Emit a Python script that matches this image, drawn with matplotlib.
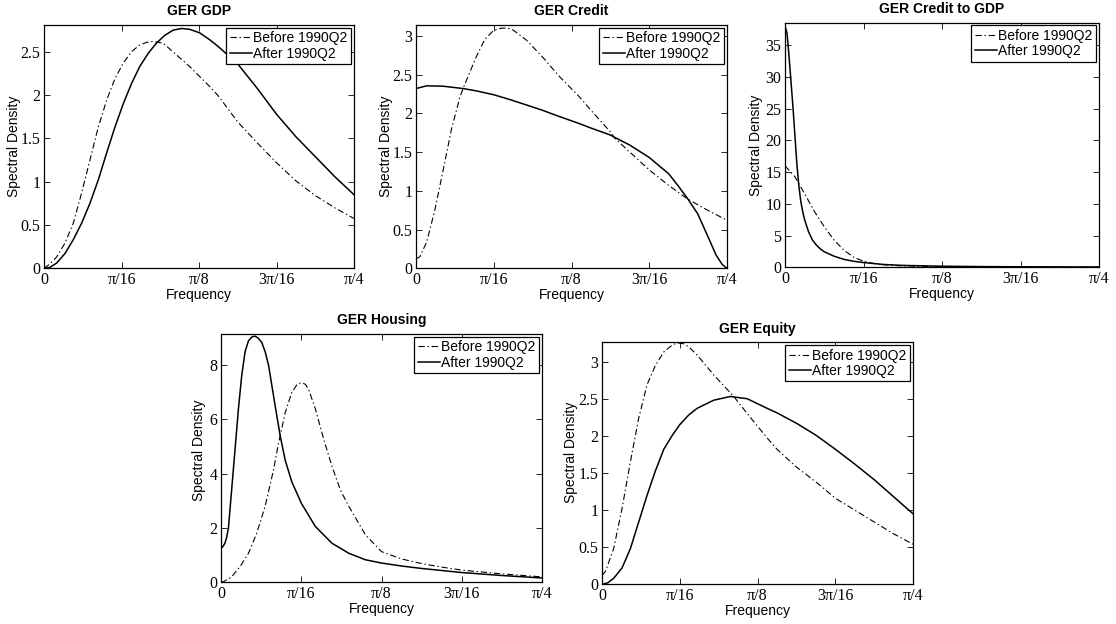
import numpy as np
import matplotlib
matplotlib.use("Agg")
import matplotlib.pyplot as plt

plt.rcParams["lines.scale_dashes"] = False

# ---------------- data (x in units of pi/64) ----------------
gdp_before_u = [0, 0.3, 0.65, 1.08, 1.51, 1.94, 2.37, 2.8, 3.23, 3.66, 4.09, 4.51, 4.94, 5.3, 5.63, 6.15,
                6.66, 7.52, 8.55, 9, 10, 11, 12, 13, 14, 15, 16]
gdp_before_v = [0.0, 0.05, 0.13, 0.29, 0.52, 0.87, 1.25, 1.63, 1.94, 2.19, 2.37, 2.5, 2.58, 2.61, 2.62, 2.6,
                2.5, 2.33, 2.1, 1.99, 1.69, 1.45, 1.22, 1.01, 0.84, 0.70, 0.575]
gdp_after_u = [0, 0.3, 0.65, 1.08, 1.51, 1.94, 2.37, 2.8, 3.23, 3.66, 4.09, 4.51, 4.94, 5.37, 5.8,
               6.23, 6.66, 7.09, 7.52, 8.03, 8.55, 9, 10, 11, 12, 13, 14, 15, 16]
gdp_after_v = [0.0, 0.01, 0.06, 0.17, 0.33, 0.52, 0.75, 1.02, 1.33, 1.63, 1.9, 2.13, 2.33, 2.48, 2.6,
               2.69, 2.75, 2.77, 2.76, 2.72, 2.64, 2.56, 2.36, 2.08, 1.78, 1.52, 1.29, 1.06, 0.85]

credit_before_u = [0, 0.2, 0.55, 0.97, 1.4, 1.82, 2.25, 2.42, 3.1, 3.53, 3.95, 4.2, 4.46, 4.7, 4.97, 5.66,
                   6.5, 7.36, 8.38, 9, 10, 10.22, 11, 12, 13, 14, 15, 16]
credit_before_v = [0.12, 0.15, 0.34, 0.75, 1.27, 1.79, 2.2, 2.32, 2.73, 2.95, 3.06, 3.09, 3.1, 3.1, 3.08, 2.95,
                   2.73, 2.48, 2.22, 2.04, 1.76, 1.68, 1.5, 1.27, 1.07, 0.89, 0.75, 0.62]
credit_after_u = [0, 0.55, 1.4, 2.42, 3.1, 4.0, 4.8, 5.66, 6.5, 7.36, 8.38, 9, 10, 10.22, 11, 12, 13, 13.5,
                  14, 14.5, 14.75, 15, 15.44, 15.75, 16]
credit_after_v = [2.32, 2.355, 2.35, 2.32, 2.29, 2.24, 2.18, 2.11, 2.04, 1.96, 1.87, 1.81, 1.72, 1.69, 1.59,
                  1.43, 1.22, 1.06, 0.89, 0.7, 0.56, 0.42, 0.17, 0.05, 0.0]

c2g_before_u = [0, 0.5, 1.0, 1.5, 2.0, 2.5, 3.0, 3.5, 4.0, 4.5, 5, 6, 8, 10, 12, 16]
c2g_before_v = [16.0, 14.3, 11.6, 8.8, 6.4, 4.3, 2.7, 1.6, 0.95, 0.6, 0.4, 0.22, 0.1, 0.06, 0.04, 0.03]
c2g_after_u = [0, 0.1, 0.2, 0.3, 0.4, 0.5, 0.6, 0.7, 0.8, 0.9, 1.0, 1.2, 1.4, 1.6, 1.8, 2.0, 2.5, 3.0,
               3.5, 4, 5, 6, 8, 10, 12, 14, 16]
c2g_after_v = [38.0, 37.0, 33.5, 29.5, 25.5, 21.0, 16.5, 13.0, 10.5, 8.8, 7.5, 5.6, 4.3, 3.5, 2.9, 2.45,
               1.75, 1.25, 0.95, 0.75, 0.45, 0.3, 0.17, 0.11, 0.08, 0.06, 0.05]

housing_before_u = [0, 0.12, 0.53, 0.95, 1.37, 1.78, 2.2, 2.62, 2.87, 3.2, 3.53, 3.8, 4.0, 4.2, 4.37, 4.7,
                    5.12, 5.53, 5.95, 6.37, 7.2, 8.0, 9, 10, 11, 12, 14, 16]
housing_before_v = [0.0, 0.02, 0.2, 0.58, 1.07, 1.81, 2.8, 4.15, 5.14, 6.25, 7.0, 7.3, 7.36, 7.3, 7.1, 6.4,
                    5.27, 4.28, 3.4, 2.8, 1.75, 1.13, 0.86, 0.69, 0.56, 0.45, 0.31, 0.2]
housing_after_u = [0, 0.1, 0.2, 0.28, 0.37, 0.53, 0.7, 0.87, 1.03, 1.2, 1.37, 1.55, 1.7, 1.85, 2.03, 2.2,
                   2.37, 2.7, 2.95, 3.2, 3.53, 4.0, 4.7, 5.53, 6.37, 7.2, 8.0, 9, 10, 12, 14, 16]
housing_after_v = [1.25, 1.32, 1.45, 1.65, 2.0, 3.4, 4.9, 6.4, 7.6, 8.5, 8.9, 9.05, 9.07, 9.0, 8.84, 8.5,
                   8.0, 6.5, 5.4, 4.5, 3.7, 2.92, 2.06, 1.44, 1.07, 0.83, 0.71, 0.6, 0.51, 0.36, 0.25, 0.16]

equity_before_u = [0, 0.17, 0.6, 1.03, 1.46, 1.89, 2.32, 2.75, 3.18, 3.6, 3.8, 4.0, 4.2, 4.46, 4.89, 5.75,
                   6.6, 6.78, 7.47, 8.5, 9, 10, 11, 12, 13, 14, 15, 16]
equity_before_v = [0.12, 0.17, 0.48, 1.02, 1.65, 2.24, 2.69, 2.95, 3.13, 3.22, 3.245, 3.25, 3.24, 3.2, 3.09,
                   2.82, 2.58, 2.53, 2.3, 1.97, 1.82, 1.58, 1.38, 1.16, 1.0, 0.84, 0.68, 0.54]
equity_after_u = [0, 0.3, 0.6, 1.03, 1.46, 1.89, 2.32, 2.75, 3.18, 3.6, 4.0, 4.46, 4.89, 5.75, 6.6,
                  7.47, 8.5, 9, 10, 11, 12, 13, 14, 15, 16]
equity_after_v = [0.0, 0.02, 0.08, 0.22, 0.48, 0.84, 1.2, 1.53, 1.82, 2.0, 2.15, 2.28, 2.37, 2.48, 2.53,
                  2.5, 2.37, 2.31, 2.17, 2.01, 1.82, 1.62, 1.41, 1.18, 0.95]

titles = ["GER GDP", "GER Credit", "GER Credit to GDP", "GER Housing", "GER Equity"]
legend_labels = ["Before 1990Q2", "After 1990Q2"]
xtick_labels = ["0", "\u03c0/16", "\u03c0/8", "3\u03c0/16", "\u03c0/4"]
ytick_sets = [
    [0, 0.5, 1, 1.5, 2, 2.5],
    [0, 0.5, 1, 1.5, 2, 2.5, 3],
    [0, 5, 10, 15, 20, 25, 30, 35],
    [0, 2, 4, 6, 8],
    [0, 0.5, 1, 1.5, 2, 2.5, 3],
]
ytops = [2.81, 3.14, 38.6, 9.15, 3.26]

series = [
    (gdp_before_u, gdp_before_v, gdp_after_u, gdp_after_v),
    (credit_before_u, credit_before_v, credit_after_u, credit_after_v),
    (c2g_before_u, c2g_before_v, c2g_after_u, c2g_after_v),
    (housing_before_u, housing_before_v, housing_after_u, housing_after_v),
    (equity_before_u, equity_before_v, equity_after_u, equity_after_v),
]

# ---------------- layout (pixels: left, top, right, bottom) ----------------
W, H = 1116, 624
boxes = [
    (44, 25, 354, 268.3),
    (416, 25, 727, 268.3),
    (785, 22.5, 1099, 267.3),
    (221, 334, 542, 582.3),
    (602, 342.3, 913, 584.3),
]
ylabel_pos = [(-0.074, 0.5), (-0.074, 0.5), (-0.07, 0.5), (-0.047, 0.533), (-0.077, 0.547)]

fig = plt.figure(figsize=(W / 100, H / 100), dpi=100)
fig.patch.set_facecolor("white")

SERIF = "Liberation Serif"
SANS = "Liberation Sans"

for i in range(5):
    l, t, r, b = boxes[i]
    ax = fig.add_axes([l / W, 1 - b / H, (r - l) / W, (b - t) / H])
    bu, bv, au, av = series[i]
    xb = np.array(bu) * np.pi / 64
    xa = np.array(au) * np.pi / 64
    ax.plot(xb, bv, color="black", lw=0.8, dashes=(4.5, 2, 1, 2), label=legend_labels[0])
    ax.plot(xa, av, color="black", lw=1.1, label=legend_labels[1])
    ax.set_xlim(0, np.pi / 4)
    ax.set_ylim(0, ytops[i])
    ax.set_xticks([0, np.pi / 16, np.pi / 8, 3 * np.pi / 16, np.pi / 4])
    ax.set_xticklabels(xtick_labels, fontfamily=SERIF, fontsize=11.5)
    yt = ytick_sets[i]
    ax.set_yticks(yt)
    ax.set_yticklabels([("%g" % v) for v in yt], fontfamily=SERIF, fontsize=11.5)
    ax.tick_params(direction="in", top=True, right=True, length=4, width=0.6, pad=2.5)
    for s in ax.spines.values():
        s.set_linewidth(0.9)
    ax.set_title(titles[i], fontfamily=SANS, fontweight="bold", fontsize=10, pad=7)
    ax.set_xlabel("Frequency", fontfamily=SANS, fontsize=10, labelpad=0.5)
    ax.set_ylabel("Spectral Density", fontfamily=SANS, fontsize=10)
    ax.yaxis.set_label_coords(*ylabel_pos[i])
    leg = ax.legend(loc="upper right", prop={"family": SANS, "size": 10}, frameon=True,
                    fancybox=False, framealpha=1, edgecolor="black", borderpad=0.25,
                    labelspacing=0.1, handlelength=1.6, handletextpad=0.1,
                    borderaxespad=0.2)
    leg.get_frame().set_linewidth(0.9)

fig.savefig("out.png", dpi=100, facecolor="white")
